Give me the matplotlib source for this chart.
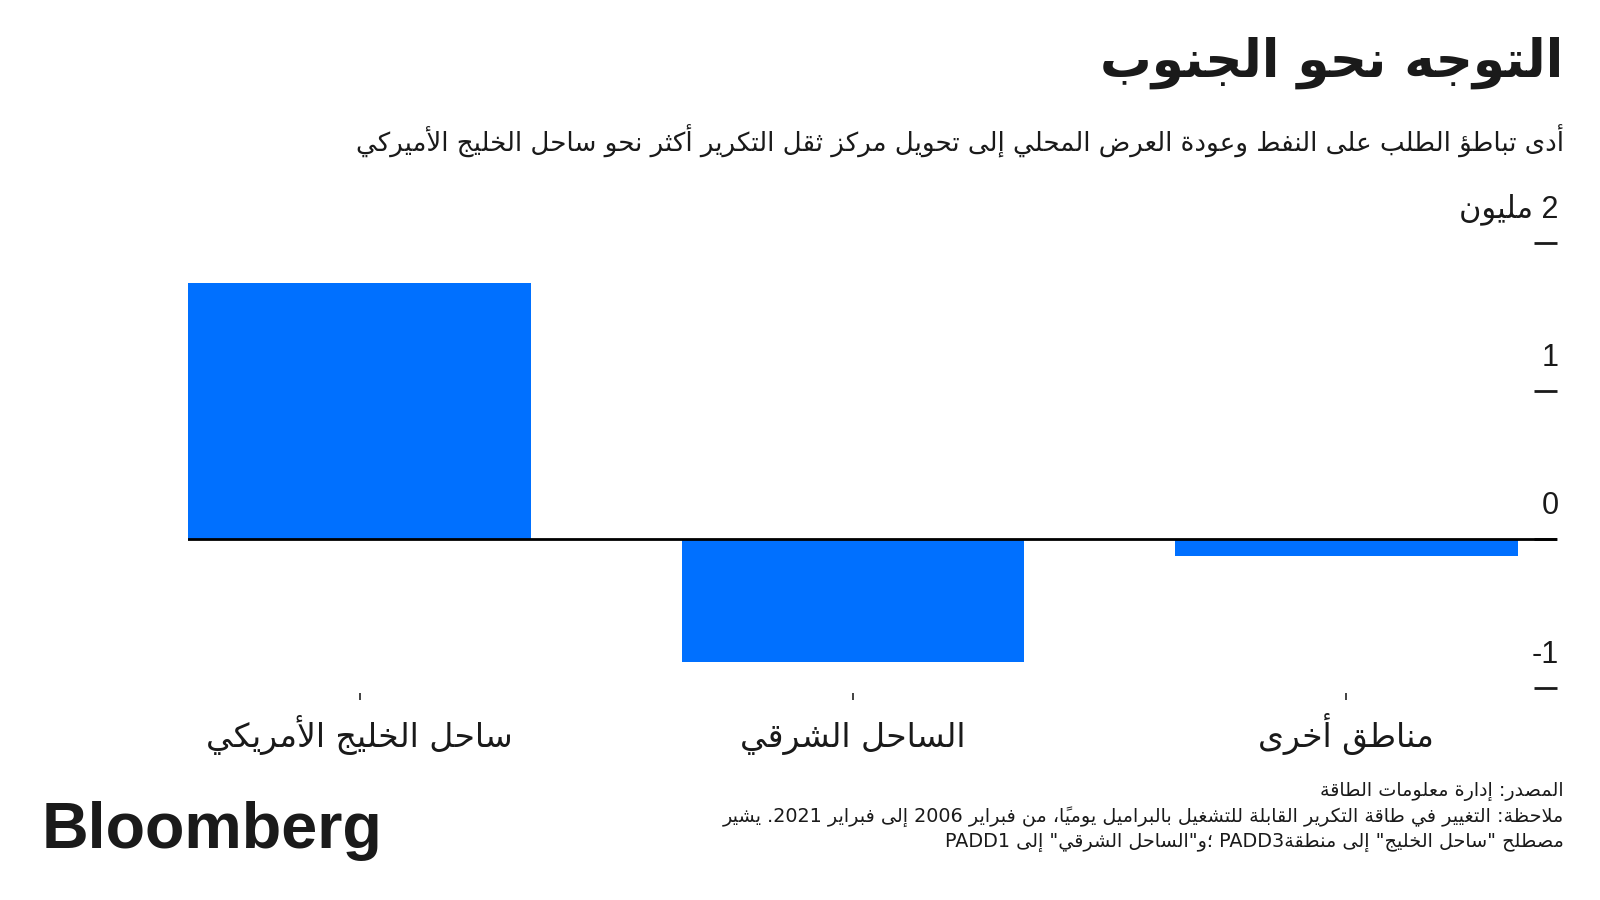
import re
import unicodedata
import matplotlib
matplotlib.use("Agg")
import matplotlib.pyplot as plt
import matplotlib.transforms as mtransforms

# data (million barrels a day)
categories = ["ساحل الخليج الأمريكي", "الساحل الشرقي", "مناطق أخرى"]
values = [1.73, -0.83, -0.11]
y_ticks = [2, 1, 0, -1]
y_tick_labels = ["2 مليون", "1", "0", "-1"]

title = "التوجه نحو الجنوب"
subtitle = "أدى تباطؤ الطلب على النفط وعودة العرض المحلي إلى تحويل مركز ثقل التكرير أكثر نحو ساحل الخليج الأميركي"
notes = [
    "المصدر: إدارة معلومات الطاقة",
    "ملاحظة: التغيير في طاقة التكرير القابلة للتشغيل بالبراميل يومياً، من فبراير 2006 إلى فبراير 2021. يشير",
    'مصطلح "ساحل الخليج" إلى منطقةPADD3 ؛و"الساحل الشرقي" إلى PADD1',
]

BLUE = "#0070ff"
INK = "#1a1a1a"
AR_FONT = ["DejaVu Sans"]

# --- minimal arabic shaping + right-to-left ordering (no reshaper lib here)
_letters = [chr(c) for c in range(0x0621, 0x063B)] + [chr(c) for c in range(0x0641, 0x064B)]
_counts = [1, 2, 2, 2, 2, 4, 2, 4, 2, 4, 4, 4, 4, 4, 2, 2, 2, 2, 4, 4, 4, 4, 4, 4, 4, 4,
           4, 4, 4, 4, 4, 4, 4, 2, 2, 4]
FORMS = {}
cp = 0xFE80
for ch, n in zip(_letters, _counts):
    FORMS[ch] = "".join(chr(cp + k) for k in range(n))
    cp += n
LAM_ALEF = {"آ": "\ufef5\ufef6", "أ": "\ufef7\ufef8", "إ": "\ufef9\ufefa", "ا": "\ufefb\ufefc"}


def shape(s):
    clusters = []
    for ch in s:
        if unicodedata.category(ch) == "Mn" and clusters:
            clusters[-1][1] += ch
        else:
            clusters.append([ch, ""])
    items = []
    i = 0
    while i < len(clusters):
        ch, mk = clusters[i]
        if ch == "ل" and i + 1 < len(clusters) and clusters[i + 1][0] in LAM_ALEF:
            items.append((LAM_ALEF[clusters[i + 1][0]], ch, mk + clusters[i + 1][1]))
            i += 2
            continue
        items.append((FORMS.get(ch), ch, mk))
        i += 1
    out = []
    for i, (forms, raw, mk) in enumerate(items):
        if forms is None:
            out.append(raw + mk)
            continue
        prev = items[i - 1][0] if i > 0 else None
        nxt = items[i + 1][0] if i + 1 < len(items) else None
        jp = prev is not None and len(prev) == 4 and len(forms) >= 2
        jn = nxt is not None and len(nxt) >= 2 and len(forms) == 4
        idx = 3 if (jp and jn) else 1 if jp else 2 if jn else 0
        out.append(forms[idx] + mk)
    return out


def ar(s):
    if not any(ch in FORMS for ch in s):
        return s  # plain numbers stay as they are
    parts = re.split(r"([A-Za-z0-9]+)", s)
    vis = []
    for p in reversed(parts):
        if re.fullmatch(r"[A-Za-z0-9]+", p):
            vis.append(p)
        else:
            vis.append("".join(reversed(shape(p))))
    return "".join(vis)


fig = plt.figure(figsize=(16, 9), dpi=100)
fig.patch.set_facecolor("white")
ax = fig.add_axes([188.3 / 1600, 1 - 693 / 900, (1557 - 188.3) / 1600, (693 - 242.5) / 900])

x = list(range(len(categories)))
ax.bar(x, values, width=0.694, color=BLUE, zorder=2)
ax.axhline(0, color="black", lw=2, zorder=3)
ax.set_xlim(-0.347, 2.427)
ax.set_ylim(-1.036, 2.0)

for s in ax.spines.values():
    s.set_visible(False)

ax.set_xticks(x)
ax.set_xticklabels([ar(c) for c in categories], family=AR_FONT, fontsize=22, color=INK, va="baseline")
ax.tick_params(axis="x", direction="out", length=5, width=1.3, color="#333333", pad=34)

ax.yaxis.tick_right()
ax.set_yticks(y_ticks)
ax.tick_params(axis="y", direction="in", length=16.5, width=2, color=INK, labelright=False)
lbl_tr = mtransforms.offset_copy(
    mtransforms.blended_transform_factory(ax.transAxes, ax.transData), fig=fig, x=1, y=18, units="points")
for v, lab in zip(y_ticks, y_tick_labels):
    ax.text(1.0, v, ar(lab), transform=lbl_tr, ha="right", va="baseline", fontsize=22,
            color=INK, family=["Liberation Sans", "DejaVu Sans"])

# texts around the plot
t_title = fig.text(1563 / 1600, 1 - 63 / 900, ar(title), ha="right", va="center",
                   fontsize=40, fontweight="bold", color=INK, family=AR_FONT)
t_sub = fig.text(1564 / 1600, 1 - 141 / 900, ar(subtitle), ha="right", va="center",
                 fontsize=18, color=INK, family=AR_FONT)
t_notes = []
for i, line in enumerate(notes):
    t_notes.append(fig.text(1564 / 1600, 1 - (791 + 25.5 * i) / 900, ar(line), ha="right",
                            va="center", fontsize=13, color=INK, family=AR_FONT))
fig.text(42 / 1600, 1 - 848 / 900, "Bloomberg", ha="left", va="baseline", fontsize=46.5,
         fontweight="bold", color=INK, family=["Liberation Sans", "DejaVu Sans"])

# scale the arabic text so its width matches the reference
fig.canvas.draw()
r = fig.canvas.get_renderer()


def fit(t, width_px):
    w = t.get_window_extent(r).width
    t.set_fontsize(t.get_fontsize() * width_px / w)


fit(t_title, 463)
fit(t_sub, 1214)
k = 835 / t_notes[1].get_window_extent(r).width
for t in t_notes:
    t.set_fontsize(t.get_fontsize() * k)
xl = ax.get_xticklabels()
k = 306 / xl[0].get_window_extent(r).width
for t in xl:
    t.set_fontsize(t.get_fontsize() * k)

fig.savefig("out.png", dpi=100, facecolor="white")
